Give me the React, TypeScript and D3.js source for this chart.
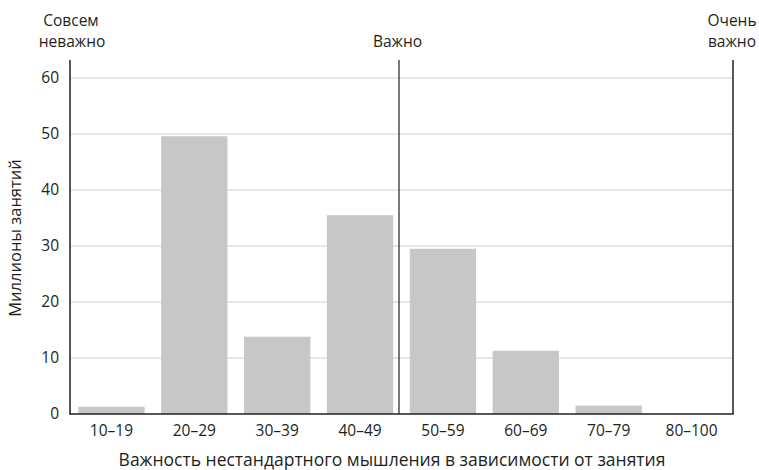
import React from "react";
import * as d3 from "d3";

const categories = ["10–19", "20–29", "30–39", "40–49", "50–59", "60–69", "70–79", "80–100"];
const values = [1.3, 49.6, 13.8, 35.5, 29.5, 11.3, 1.5, 0];
const yTicks = [0, 10, 20, 30, 40, 50, 60];
const yTitle = "Миллионы занятий";
const xTitle = "Важность нестандартного мышления в зависимости от занятия";
const leftLabel = ["Совсем", "неважно"];
const midLabel = "Важно";
const rightLabel = ["Очень", "важно"];

const W = 759, H = 470;
const left = 70, right = 733, top = 60, bottom = 414;
const font = "'Open Sans', sans-serif";
const ink = "#231f20";
const fs = 15.5;

export default function App() {
  const x = d3.scaleBand<string>().domain(categories).range([left, right]).paddingInner(0.2).paddingOuter(0.1);
  const y = d3.scaleLinear().domain([0, 60]).range([bottom, 78]);
  const midX = 399;
  return (
    <svg width={W} height={H} style={{ position: "absolute", left: 0, top: 0 }} fontFamily={font}>
      {yTicks.filter(t => t > 0).map(t => (
        <line key={t} x1={left} x2={right} y1={y(t)} y2={y(t)} stroke="#cfcfcf" strokeWidth={1.2} />
      ))}
      {categories.map((c, i) => (
        <rect key={c} x={x(c)} width={x.bandwidth()} y={y(values[i])} height={bottom - y(values[i])} fill="#c6c7c9" />
      ))}
      <line x1={left} x2={left} y1={top} y2={bottom} stroke={ink} strokeWidth={1.5} />
      <line x1={right} x2={right} y1={top} y2={bottom} stroke={ink} strokeWidth={1.5} />
      <line x1={midX} x2={midX} y1={top} y2={bottom} stroke={ink} strokeWidth={1.2} />
      <line x1={left - 0.75} x2={right + 0.75} y1={bottom} y2={bottom} stroke={ink} strokeWidth={1.5} />
      {yTicks.map(t => (
        <text key={t} x={59} y={y(t)} dy="0.35em" textAnchor="end" fontSize={fs} fill={ink}>{t}</text>
      ))}
      {categories.map(c => (
        <text key={c} x={(x(c) as number) + x.bandwidth() / 2} y={436} textAnchor="middle" fontSize={fs} fill={ink}>{c}</text>
      ))}
      <text transform={`translate(21,238) rotate(-90)`} textAnchor="middle" fontSize={16.5} fill={ink}>{yTitle}</text>
      <text x={392} y={466} textAnchor="middle" fontSize={17.5} fill={ink}>{xTitle}</text>
      <text x={71} y={26} textAnchor="middle" fontSize={fs} fill={ink}>{leftLabel[0]}</text>
      <text x={72} y={47} textAnchor="middle" fontSize={fs} fill={ink}>{leftLabel[1]}</text>
      <text x={397.5} y={47} textAnchor="middle" fontSize={fs} fill={ink}>{midLabel}</text>
      <text x={732} y={26} textAnchor="middle" fontSize={fs} fill={ink}>{rightLabel[0]}</text>
      <text x={732} y={47} textAnchor="middle" fontSize={fs} fill={ink}>{rightLabel[1]}</text>
    </svg>
  );
}
